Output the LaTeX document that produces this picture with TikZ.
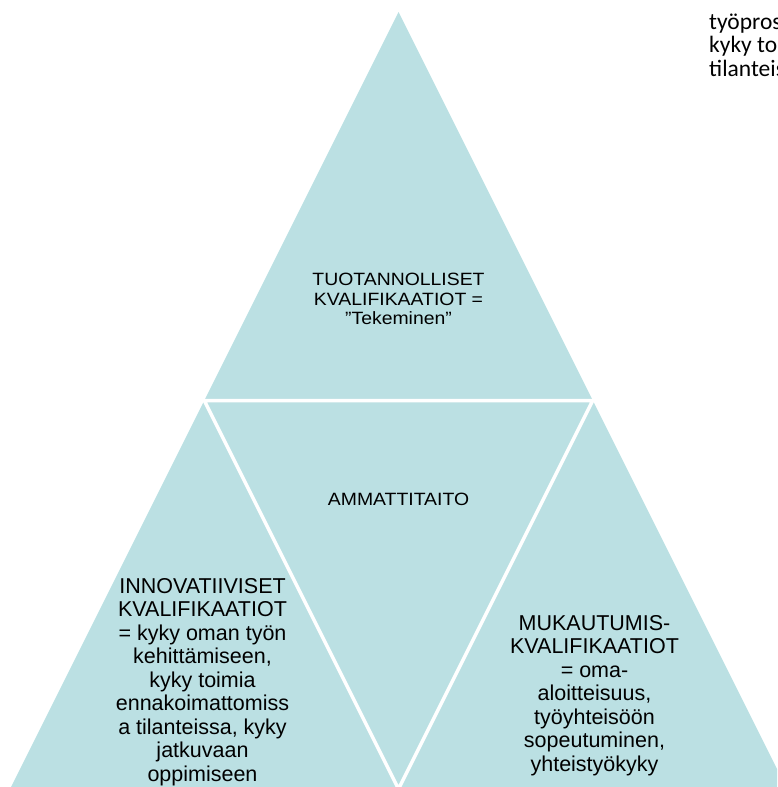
\documentclass[tikz,border=0pt]{standalone}
\usepackage{fontspec}
\setmainfont{Liberation Sans}
\newfontfamily\topfont[FakeStretch=1.09]{Liberation Sans}
\newfontfamily\calfont{Carlito}
\definecolor{tri}{RGB}{187,224,227}
\begin{document}
\begin{tikzpicture}[x=1pt,y=-1pt,
  lbl/.style={inner sep=0pt, align=center, text=black},
  bigtxt/.style={lbl, font=\fontsize{21.5}{23.5}\selectfont},
  toptxt/.style={lbl, font=\topfont\fontsize{17.8}{19.5}\selectfont},
  sidetxt/.style={inner sep=0pt, anchor=base west, text=black, font=\calfont\fontsize{23.5}{23.5}\selectfont},
  gap/.style={draw=white, line width=3.5pt, line cap=rect}]
\useasboundingbox (0,0) rectangle (777,787);
\begin{scope}
\clip (0,0) rectangle (777,787);
\coordinate (A) at (398.5,12);
\coordinate (BL) at (10,789);
\coordinate (BR) at (787,789);
\coordinate (ML) at (204.25,400.5);
\coordinate (MR) at (592.75,400.5);
\coordinate (MB) at (398.5,789);
\fill[tri] (A) -- (BL) -- (BR) -- cycle;
\draw[gap] (ML) -- (MR) -- (MB) -- cycle;
\node[toptxt, anchor=north] (top) at (398.5,273) {TUOTANNOLLISET\\KVALIFIKAATIOT =\\”Tekeminen”};
\node[toptxt, anchor=center] (mid) at (398.5,499) {AMMATTITAITO};
\node[bigtxt, anchor=north] (left) at (202.5,578) {INNOVATIIVISET\\KVALIFIKAATIOT\\= kyky oman työn\\kehittämiseen,\\kyky toimia\\ennakoimattomiss\\a tilanteissa, kyky\\jatkuvaan\\oppimiseen};
\node[bigtxt, anchor=north] (right) at (594.5,615) {MUKAUTUMIS-\\KVALIFIKAATIOT\\= oma-\\aloitteisuus,\\työyhteisöön\\sopeutuminen,\\yhteistyökyky};
\node[sidetxt] (tr1) at (709,29) {työpros};
\node[sidetxt] (tr2) at (709,52.5) {kyky toi};
\node[sidetxt] (tr3) at (709,76) {tilanteis};
\end{scope}
\end{tikzpicture}
\end{document}
